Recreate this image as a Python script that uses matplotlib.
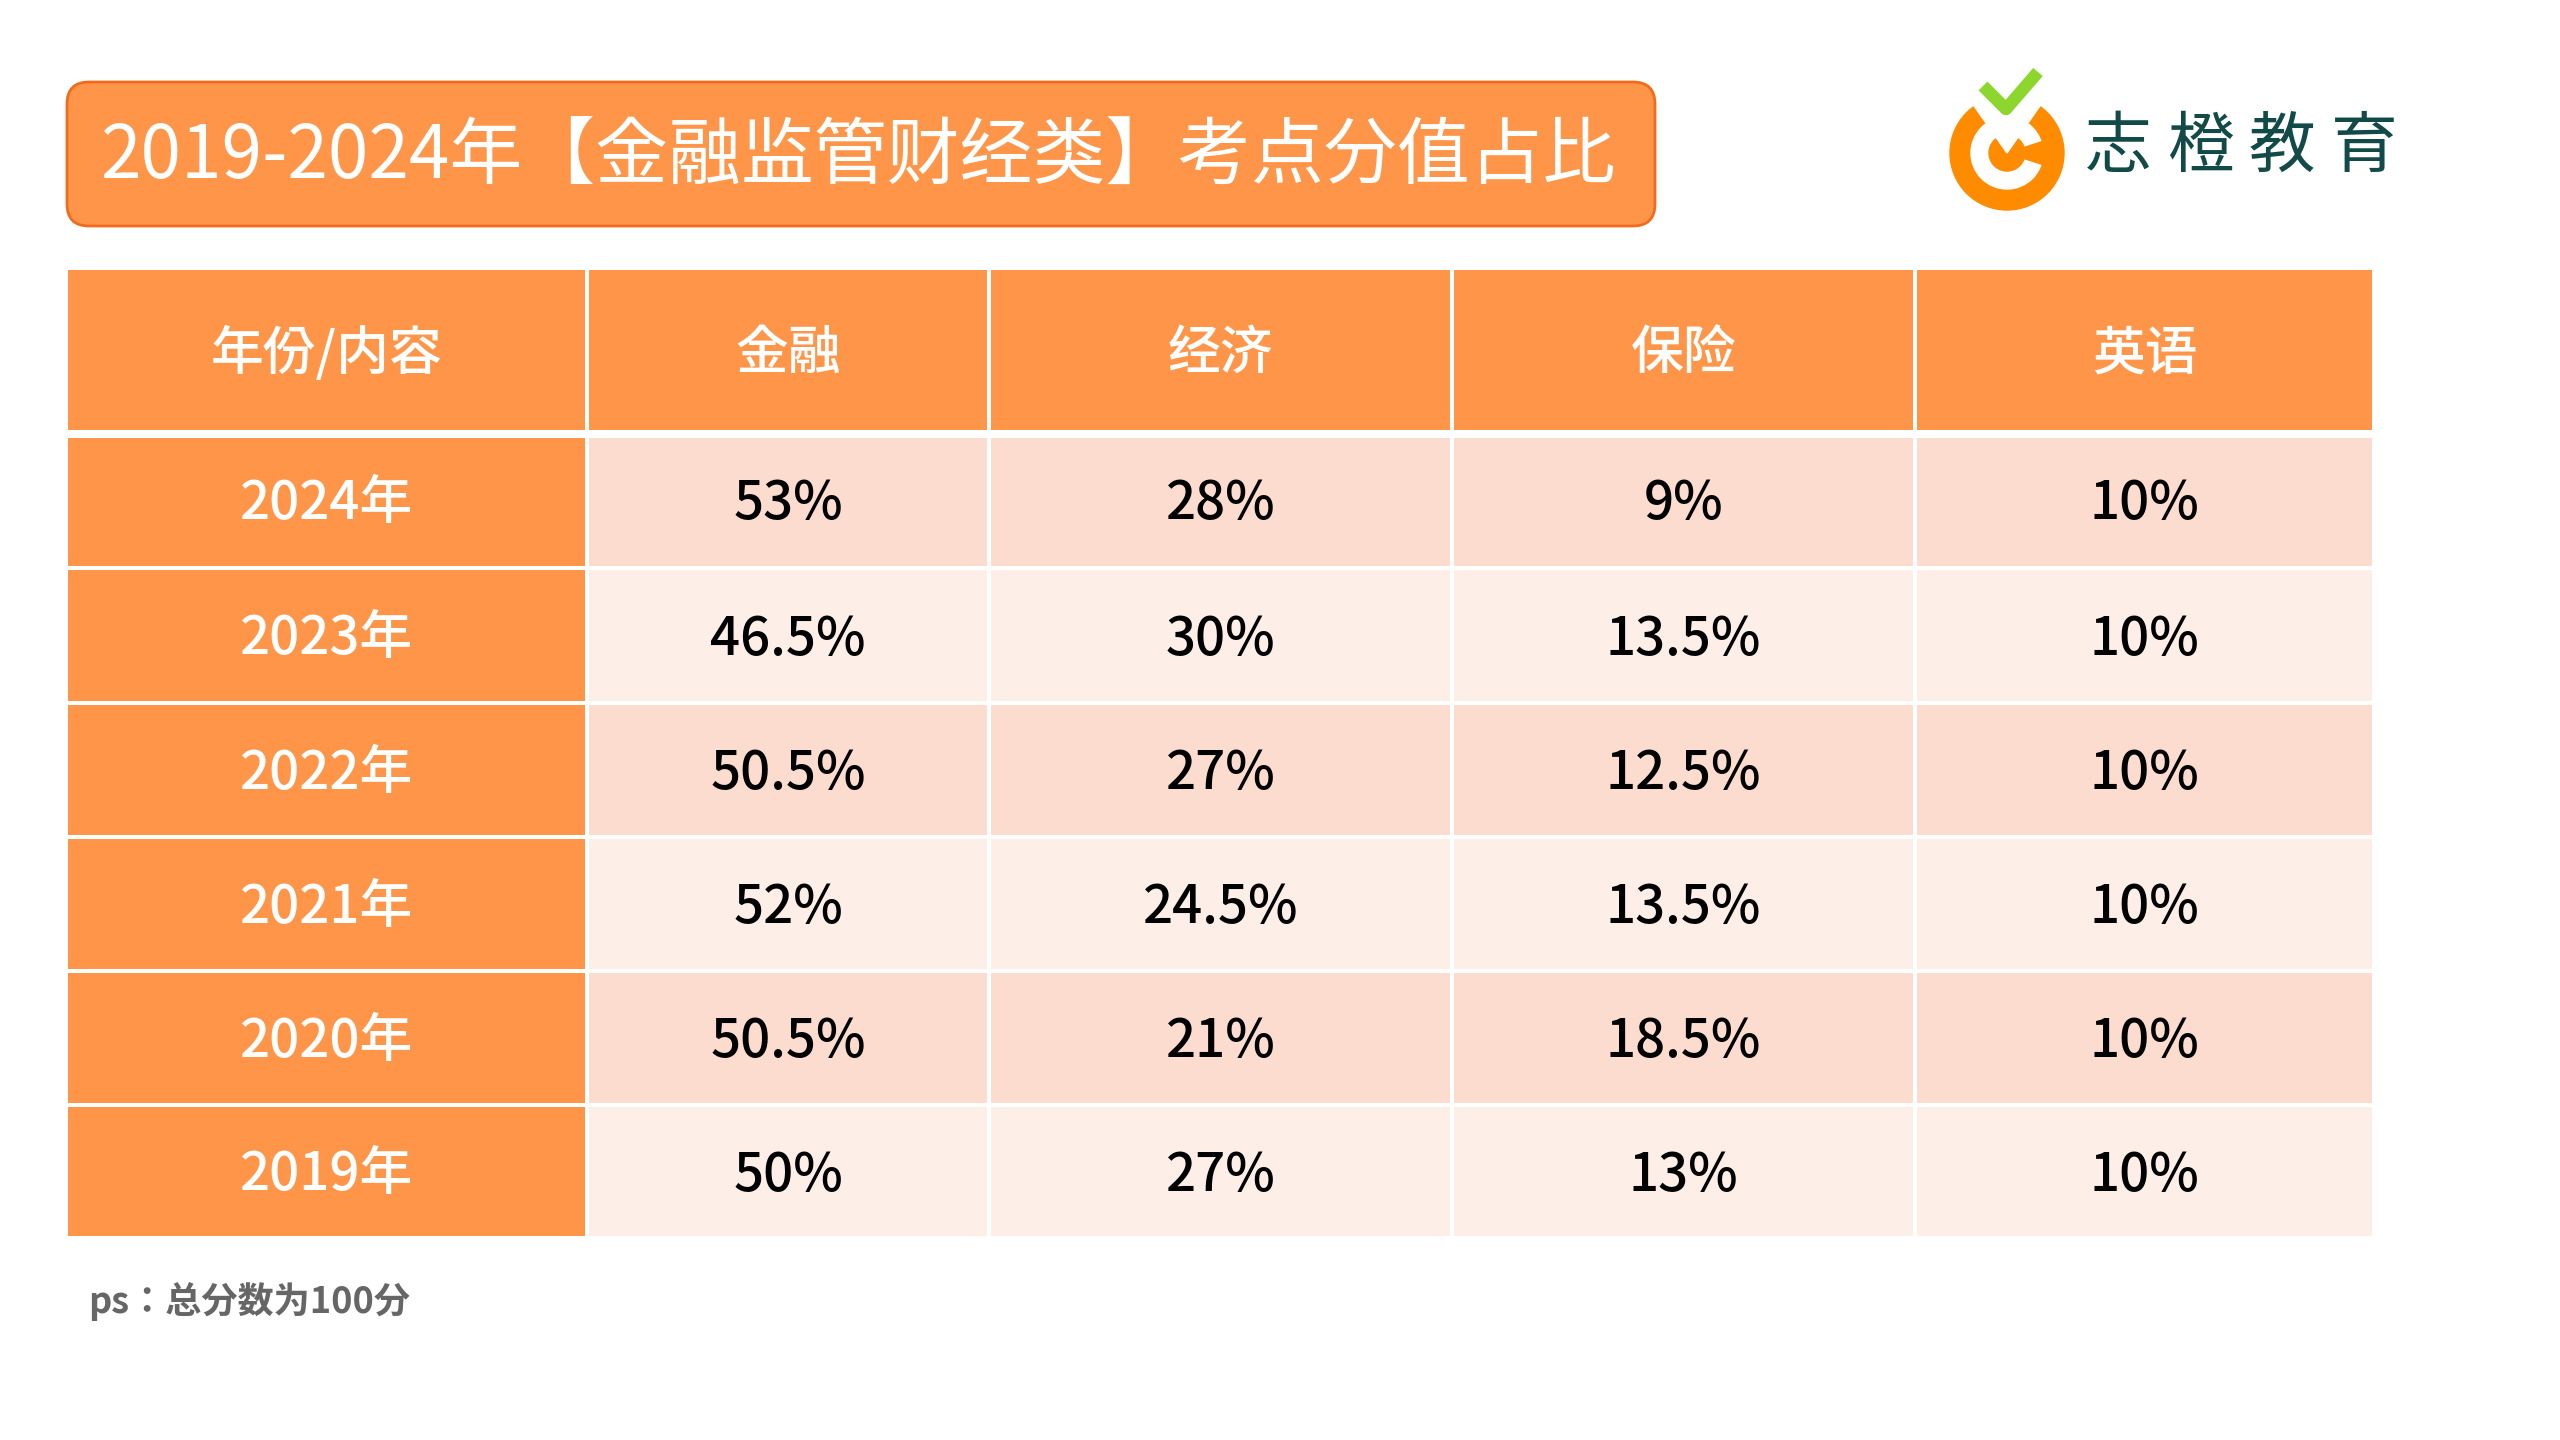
import matplotlib.pyplot as plt
from matplotlib.patches import Rectangle, FancyBboxPatch, Circle, Wedge
from matplotlib import font_manager

names = {f.name for f in font_manager.fontManager.ttflist}
cjk = [n for n in ['Noto Sans CJK SC', 'Noto Sans CJK JP', 'Noto Sans CJK TC'] if n in names]
plt.rcParams['font.family'] = cjk + ['DejaVu Sans']

# Data
title = '2019-2024年【金融监管财经类】考点分值占比'
columns = ['年份/内容', '金融', '经济', '保险', '英语']
years = ['2024年', '2023年', '2022年', '2021年', '2020年', '2019年']
finance = ['53%', '46.5%', '50.5%', '52%', '50.5%', '50%']
economy = ['28%', '30%', '27%', '24.5%', '21%', '27%']
insurance = ['9%', '13.5%', '12.5%', '13.5%', '18.5%', '13%']
english = ['10%', '10%', '10%', '10%', '10%', '10%']
note = 'ps：总分数为100分'

ORANGE = '#FF9548'
ROW_DARK = '#FDDCD0'
ROW_LIGHT = '#FDEFE8'
LOGO_ORANGE = '#FF8C00'

W, H = 2560, 1440
fig = plt.figure(figsize=(25.6, 14.4), dpi=100)
ax = fig.add_axes([0, 0, 1, 1])
ax.set_xlim(0, W)
ax.set_ylim(H, 0)
ax.axis('off')

# Title box
ax.add_patch(FancyBboxPatch((67, 82), 1588, 144, boxstyle='round,pad=0,rounding_size=22',
                            fc=ORANGE, ec='#F26B1D', lw=2))
ax.text(100, 158, title, fontsize=52.5, color='white', va='center', ha='left')

# Logo
cx, cy = 2007, 153
ax.add_patch(Circle((cx, cy), 57, color=LOGO_ORANGE))
ax.add_patch(Circle((cx, cy), 36, color='white'))
ax.add_patch(Circle((cx, cy), 18, color=LOGO_ORANGE))
ax.add_patch(Wedge((cx, cy), 38, -18, 18, color=LOGO_ORANGE))
ax.add_patch(Wedge((cx, cy), 60, 235, 305, color='white'))
ax.plot([1983, 2006, 2038], [86, 109, 72], color='#8CD62E', lw=9, solid_capstyle='butt')
for i, ch in enumerate('志橙教育'):
    ax.text(2118 + i * 82, 148, ch, fontsize=48, color='#124A48', ha='center', va='center')

# Table
col_edges = [66, 587, 989, 1452, 1915, 2374]
row_edges = [268, 432, 568, 703, 837, 971, 1105, 1238]
gap = 2
body = list(zip(years, finance, economy, insurance, english))
rows = [columns] + [list(r) for r in body]
for r, vals in enumerate(rows):
    y0, y1 = row_edges[r], row_edges[r + 1]
    for c, val in enumerate(vals):
        x0, x1 = col_edges[c], col_edges[c + 1]
        if r == 0 or c == 0:
            fc, tc = ORANGE, 'white'
        else:
            fc, tc = (ROW_DARK if r % 2 == 1 else ROW_LIGHT), 'black'
        top = y0 + (6 if r == 1 else gap)
        ax.add_patch(Rectangle((x0 + gap, top), x1 - x0 - 2 * gap, y1 - top - gap,
                               fc=fc, ec='none'))
        ax.text((x0 + x1) / 2, (y0 + y1) / 2 + 4, val, fontsize=38, color=tc,
                fontweight='medium', ha='center', va='center')

ax.text(88, 1301, note, fontsize=26, color='#666666', fontweight='bold',
        ha='left', va='center')

fig.savefig('out.png', dpi=100, facecolor='white')
